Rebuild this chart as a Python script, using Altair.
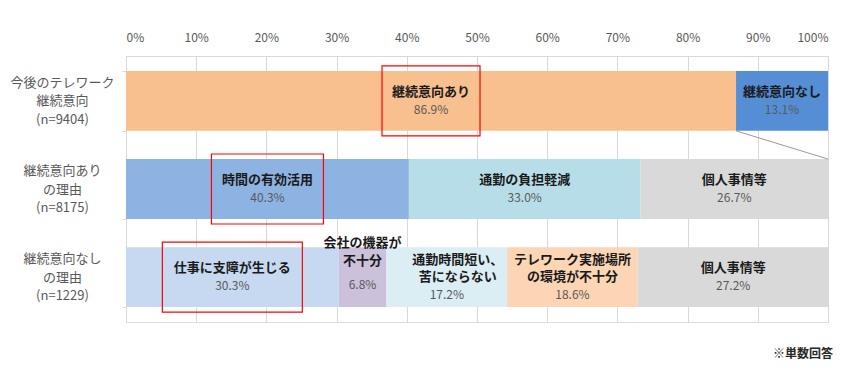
import altair as alt
import pandas as pd

FONT = "Noto Sans CJK JP"

# ---- data ----
row_labels = [
    "今後のテレワーク\n継続意向\n(n=9404)",
    "継続意向あり\nの理由\n(n=8175)",
    "継続意向なし\nの理由\n(n=1229)",
]
seg_row = [0, 0, 1, 1, 1, 2, 2, 2, 2, 2]
seg_names = [
    "継続意向あり", "継続意向なし",
    "時間の有効活用", "通勤の負担軽減", "個人事情等",
    "仕事に支障が生じる", "会社の機器が\n不十分", "通勤時間短い、\n苦にならない",
    "テレワーク実施場所\nの環境が不十分", "個人事情等",
]
seg_values = [86.9, 13.1, 40.3, 33.0, 26.7, 30.3, 6.8, 17.2, 18.6, 27.2]
seg_colors = [
    "#F8C08F", "#558ED5",
    "#8DB3E2", "#B7DEE8", "#D9D9D9",
    "#C6D9F1", "#CCC1DA", "#DBEEF4", "#FCD5B5", "#D9D9D9",
]
highlight = [0, 2, 5]  # indexes of segments framed in red

# ---- layout constants (label nudges in px, as placed in the original) ----
W, H = 702, 266
LH = 17.5
NUDGE = {
    6: {"name": (0, -16.5), "val": (0, -9.5)},
    7: {"name": (11, 0), "val": (0, 0)},
}

# ---- build table ----
recs = []
cum = {}
for i, (r, n, v, c) in enumerate(zip(seg_row, seg_names, seg_values, seg_colors)):
    start = cum.get(r, 0.0)
    end = start + v
    cum[r] = end
    lines = n.split("\n")
    recs.append(dict(
        idx=i, row=row_labels[r], value=v, color=c, start=start, end=min(end, 100.0),
        mid=start + v / 2, nl=len(lines),
        name_arr=lines,
        val=f"{v:.1f}%",
        hl=i in highlight,
        hw=(max(len(s) for s in lines) * 14 + 14) / 2 / W * 100,
    ))
df = pd.DataFrame(recs)
df["hx1"] = df["mid"] - df["hw"]
df["hx2"] = df["mid"] + df["hw"]
bar_df = df.drop(columns=["name_arr"])
hl_df = bar_df[bar_df["hl"]]
txt_df = df[["idx", "row", "mid", "nl", "name_arr", "val"]]

yscale = alt.Scale(domain=row_labels, paddingInner=0.32, paddingOuter=0.17)
xscale = alt.Scale(domain=[0, 100], nice=False, clamp=True)

y_main = alt.Y(
    "row:N", scale=yscale, sort=row_labels, title=None,
    axis=alt.Axis(
        orient="left", domain=False, ticks=True, tickBand="extent", tickSize=4,
        tickColor="#D9D9D9", labelPadding=60, labelAlign="center", labelBaseline="middle",
        labelExpr="split(datum.label, '\\n')", labelLineHeight=18.5, labelFontSize=13,
        labelOffset=-18.5,
        labelColor="#595959", labelFont=FONT, grid=False,
    ),
)
x_main = alt.X(
    "start:Q", scale=xscale, title=None,
    axis=alt.Axis(
        orient="top", values=list(range(0, 101, 10)), labelExpr="datum.value + '%'",
        ticks=False, grid=True, gridColor="#D9D9D9", domainColor="#D9D9D9",
        labelColor="#595959", labelFontSize=12, labelPadding=12, labelFont=FONT,
    ),
)

bars = alt.Chart(bar_df).mark_bar().encode(
    y=y_main, x=x_main, x2="end:Q",
    color=alt.Color("color:N", scale=None),
)

ylab = alt.Y("row:N", scale=yscale, sort=row_labels)
xmid = alt.X("mid:Q", scale=xscale)

text_layers = []
for i in range(len(seg_names)):
    k = seg_names[i].count("\n") + 1
    ndx, ndy = NUDGE.get(i, {}).get("name", (0, 0))
    vdx, vdy = NUDGE.get(i, {}).get("val", (0, 0))
    sub = alt.Chart(txt_df).transform_filter(alt.datum.idx == i)
    text_layers.append(sub.mark_text(
        baseline="middle", align="center", fontSize=13, fontWeight="bold",
        color="#1A1A1A", font=FONT, lineHeight=LH,
        dx=ndx, dy=-k * LH / 2 + ndy,
    ).encode(y=ylab, x=xmid, text="name_arr:N"))
    text_layers.append(sub.mark_text(
        baseline="middle", align="center", fontSize=12,
        color="#595959", font=FONT, dx=vdx, dy=k * LH / 2 + vdy,
    ).encode(y=ylab, x=xmid, text="val:N"))

boxes = alt.Chart(hl_df).mark_bar(
    height=70, fillOpacity=0, stroke="#FF0000", strokeWidth=1.2,
).encode(y=ylab, x=alt.X("hx1:Q", scale=xscale), x2="hx2:Q")

link_df = pd.DataFrame([dict(
    x1=seg_values[0], x2=100.0, ya=row_labels[0], yb=row_labels[1],
)])
link = alt.Chart(link_df).mark_rule(color="#7F7F7F", strokeWidth=0.8).encode(
    x=alt.X("x1:Q", scale=xscale), x2="x2:Q",
    y=alt.Y("ya:N", scale=yscale, sort=row_labels, bandPosition=1),
    y2=alt.Y2("yb:N", bandPosition=0),
)

note = alt.Chart(pd.DataFrame([{"t": "※単数回答"}])).mark_text(
    align="right", baseline="middle", fontSize=12, fontWeight="bold",
    color="#262626", font=FONT,
).encode(x=alt.value(707), y=alt.value(298), text="t:N")

chart = alt.layer(bars, *text_layers, boxes, link, note).properties(
    width=W, height=H,
    autosize=alt.AutoSizeParams(type="none"),
    padding={"left": 126, "top": 56, "right": 33, "bottom": 50},
).configure_view(stroke=None).configure(font=FONT)

chart.save("out.html", embed_options={"renderer": "svg", "actions": False})
